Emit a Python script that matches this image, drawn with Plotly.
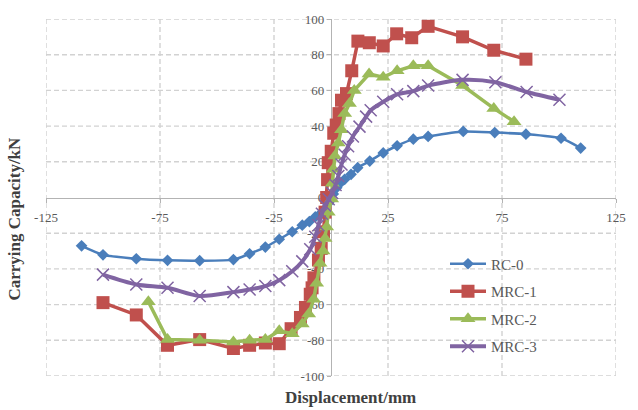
import plotly.graph_objects as go

# ---------------- data ----------------
rc0_x = [-109.4, -100.0, -85.4, -71.7, -57.6, -42.8, -35.7, -28.8, -22.7, -17.0, -12.6, -9.5,
         -6.9, -4.7, -2.8, -1.0, 1.0, 2.5, 4.0, 6.0, 8.8, 11.7, 17.0, 22.9, 29.0, 36.1, 42.6,
         58.0, 71.8, 85.5, 100.9, 109.5]
rc0_y = [-27.1, -32.1, -34.3, -35.2, -35.4, -34.8, -31.5, -27.8, -23.4, -19.2, -15.5, -13.5,
         -10.9, -9.1, -6.5, -3.0, 2.0, 5.5, 8.0, 10.2, 13.0, 16.7, 20.4, 25.0, 29.0, 32.7, 34.2,
         37.0, 36.4, 35.5, 33.2, 27.7]

mrc1_x = [-100.0, -85.4, -71.7, -57.6, -42.8, -35.7, -28.8, -22.7, -17.5, -13.4, -11.2, -9.1,
          -8.3, -7.5, -5.5, -4.3, -3.3, -2.6, -1.9, -1.5, -1.2, 0.1, 1.2, 2.3, 3.5, 4.6, 6.8,
          9.1, 11.8, 16.8, 22.9, 28.8, 35.4, 42.6, 57.7, 71.4, 85.5]
mrc1_y = [-58.9, -65.8, -82.8, -79.6, -84.6, -82.8, -81.5, -81.9, -73.5, -67.2, -61.6, -54.2,
          -50.6, -45.0, -35.0, -28.5, -19.2, -8.2, 0.0, 10.0, 19.5, 25.9, 36.0, 40.6, 47.0, 54.5, 58.2,
          71.0, 87.6, 86.7, 84.9, 91.7, 89.5, 95.9, 90.0, 82.5, 77.5]

mrc2_x = [-80.1, -71.7, -57.6, -42.8, -35.7, -28.8, -22.7, -17.0, -12.6, -9.8, -7.6, -6.3,
          -4.8, -3.5, -2.6, -1.9, -1.2, 0.3, 0.6, 1.0, 1.7, 3.2, 4.6, 6.0, 8.1, 10.2, 16.7,
          22.9, 29.0, 36.1, 42.6, 57.7, 71.4, 80.3]
mrc2_y = [-58.4, -79.6, -80.0, -81.0, -80.0, -79.6, -74.7, -76.3, -70.8, -65.3, -57.0, -48.0,
          -36.8, -30.0, -22.9, -16.5, -8.2, -0.8, 8.0, 15.8, 23.2, 30.5, 37.9, 47.1, 52.6, 60.0, 69.2,
          67.4, 71.0, 73.8, 73.8, 62.7, 49.9, 42.5]

mrc3_x = [-100.0, -85.4, -71.7, -57.6, -42.8, -35.7, -28.8, -22.7, -17.0, -12.6, -9.1, -6.9,
          -5.5, -4.0, -2.6, -1.0, 0.5, 2.0, 3.2, 4.6, 6.0, 7.5, 9.6, 12.5, 15.4, 17.4, 22.9,
          29.0, 36.1, 42.6, 57.7, 72.1, 85.8, 100.2]
mrc3_y = [-43.2, -48.7, -50.6, -55.2, -53.0, -51.5, -49.6, -46.3, -41.3, -35.8, -29.0, -22.0,
          -15.5, -9.1, -4.5, -1.0, 2.5, 7.0, 12.0, 18.5, 24.0, 28.7, 34.2, 39.7, 45.3, 48.9, 53.6,
          57.8, 59.6, 62.7, 65.9, 64.6, 59.1, 54.8]

names = ["RC-0", "MRC-1", "MRC-2", "MRC-3"]
x_ticks = [-125, -75, -25, 25, 75, 125]
y_ticks = [-100, -80, -60, -40, -20, 0, 20, 40, 60, 80, 100]
x_range = [-125, 125]
y_range = [-100, 100]

# ---------------- figure ----------------
fig = go.Figure()
fig.add_trace(go.Scatter(x=rc0_x, y=rc0_y, name=names[0], legendgroup="a", mode="lines+markers",
                         line=dict(color="#4A7EBB", width=2.5, shape="spline", smoothing=0.6),
                         marker=dict(symbol="diamond", size=9, color="#4A7EBB")))
fig.add_trace(go.Scatter(x=mrc1_x, y=mrc1_y, name=names[1], legendgroup="b", mode="lines+markers",
                         line=dict(color="#C0504D", width=3.5),
                         marker=dict(symbol="square", size=13, color="#C0504D")))
fig.add_trace(go.Scatter(x=mrc2_x, y=mrc2_y, name=names[2], legendgroup="c", mode="lines+markers",
                         line=dict(color="#9BBB59", width=3.5),
                         marker=dict(symbol="triangle-up", size=13, color="#9BBB59")))
fig.add_trace(go.Scatter(x=mrc3_x, y=mrc3_y, name=names[3], legendgroup="d", mode="lines+markers",
                         line=dict(color="#8064A2", width=4, shape="spline", smoothing=0.8),
                         marker=dict(symbol="x-thin-open", size=12,
                                     line=dict(color="#8064A2", width=1.5))))

# dashed grid (built from the tick arrays)
grid_line = dict(color="#D2D2D2", width=1.4, dash="5px,3px")
for xv in x_ticks:
    fig.add_shape(type="line", xref="x", yref="y", x0=xv, x1=xv, y0=y_range[0], y1=y_range[1],
                  line=grid_line, layer="below")
for yv in y_ticks:
    if yv == 0:
        continue
    fig.add_shape(type="line", xref="x", yref="y", x0=x_range[0], x1=x_range[1], y0=yv, y1=yv,
                  line=grid_line, layer="below")

tickfont = dict(family="Liberation Serif", size=13, color="#595959")
axcommon = dict(anchor="free", position=0.5, showline=True, linecolor="#B3B3B3", linewidth=1.2,
                ticks="outside", ticklen=4, tickcolor="#B3B3B3", tickfont=tickfont,
                showgrid=False, zeroline=False, layer="below traces")

fig.update_layout(
    xaxis=dict(range=x_range, tickvals=x_ticks, ticktext=[str(v) for v in x_ticks],
               ticklabelstandoff=4, **axcommon),
    yaxis=dict(range=y_range, tickvals=y_ticks, ticktext=[str(v) for v in y_ticks], **axcommon),
    width=638, height=410,
    margin=dict(l=46, r=13, t=14, b=34),
    paper_bgcolor="white", plot_bgcolor="white",
    showlegend=True,
    legend=dict(x=0.70, y=0.36, xanchor="left", yanchor="top",
                bgcolor="rgba(0,0,0,0)", borderwidth=0, itemwidth=36,
                font=dict(family="Liberation Serif", size=15, color="#595959"),
                tracegroupgap=5),
    annotations=[
        dict(text="<b>Displacement/mm</b>", x=0.535, y=-0.061, xref="paper", yref="paper",
             xanchor="center", yanchor="middle", showarrow=False,
             font=dict(family="Liberation Serif", size=17, color="#404040")),
        dict(text="<b>Carrying Capacity/kN</b>", x=-0.055, y=0.44, xref="paper", yref="paper",
             xanchor="center", yanchor="middle", showarrow=False, textangle=-90,
             font=dict(family="Liberation Serif", size=17, color="#404040")),
    ],
)

fig.write_html("out.html")
